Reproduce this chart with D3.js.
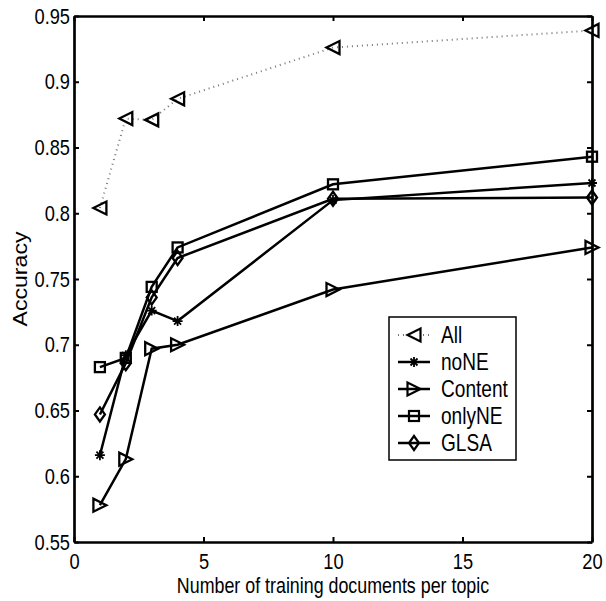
<!DOCTYPE html>
<html>
<head>
<meta charset="utf-8">
<script src="https://cdn.jsdelivr.net/npm/d3@7"></script>
<style>
  body { margin: 0; background: #fff; }
  text { font-family: "Liberation Sans", Arial, sans-serif; fill: #000; }
</style>
</head>
<body>
<div id="chart"></div>
<script>
// données
const docs = [1, 2, 3, 4, 10, 20];
const seriesNames = ["All", "noNE", "Content", "onlyNE", "GLSA"];
const accAll = [0.804, 0.872, 0.871, 0.887, 0.926, 0.939];
const accNoNE = [0.616, 0.692, 0.726, 0.718, 0.810, 0.823];
const accContent = [0.578, 0.613, 0.697, 0.700, 0.742, 0.774];
const accOnlyNE = [0.683, 0.690, 0.744, 0.774, 0.822, 0.843];
const accGLSA = [0.647, 0.686, 0.736, 0.766, 0.811, 0.812];
const xTicks = [0, 5, 10, 15, 20];
const yTicks = [0.55, 0.6, 0.65, 0.7, 0.75, 0.8, 0.85, 0.9, 0.95];

const markers = ["triLeft", "star", "triRight", "square", "diamond"];
const series = seriesNames.map((name, i) => ({
  name: name,
  values: [accAll, accNoNE, accContent, accOnlyNE, accGLSA][i],
  marker: markers[i],
  dotted: i === 0
}));

const width = 606, height = 601;
const margin = {left: 74, right: 14, top: 16, bottom: 59};
const fontSize = "22px";
const narrow = 0.83; // police étroite type Helvetica Narrow

const svg = d3.select("#chart").append("svg")
  .attr("width", width).attr("height", height);

const x = d3.scaleLinear().domain([0, 20]).range([margin.left, width - margin.right]);
const y = d3.scaleLinear().domain([0.55, 0.95]).range([height - margin.bottom, margin.top]);

// axes (ticks vers l'intérieur, boîte fermée)
const fmt = d => String(+d.toFixed(2));
svg.append("g").attr("transform", `translate(0,${y(0.55)})`)
  .call(d3.axisBottom(x).tickValues(xTicks).tickSizeInner(-5).tickSizeOuter(0).tickPadding(11).tickFormat(fmt));
svg.append("g").attr("transform", `translate(0,${y(0.95)})`)
  .call(d3.axisTop(x).tickValues(xTicks).tickSizeInner(-5).tickSizeOuter(0).tickFormat(""));
svg.append("g").attr("transform", `translate(${x(0)},0)`)
  .call(d3.axisLeft(y).tickValues(yTicks).tickSizeInner(-5).tickSizeOuter(0).tickPadding(4 / narrow).tickFormat(fmt));
svg.append("g").attr("transform", `translate(${x(20)},0)`)
  .call(d3.axisRight(y).tickValues(yTicks).tickSizeInner(-5).tickSizeOuter(0).tickFormat(""));

svg.selectAll(".domain").attr("stroke", "#000").attr("stroke-width", 2.7);
svg.selectAll(".tick line").attr("stroke", "#000").attr("stroke-width", 2);
svg.selectAll(".tick text")
  .attr("font-family", "Liberation Sans, Arial, sans-serif")
  .style("font-size", fontSize)
  .attr("transform", `scale(${narrow},1)`);

// titres des axes
svg.append("text").attr("transform", `translate(${x(10)},593) scale(${narrow},1)`).attr("text-anchor", "middle")
  .style("font-size", "21.5px").text("Number of training documents per topic");
svg.append("text").attr("transform", `translate(27,${y(0.75)}) rotate(-90)`).attr("text-anchor", "middle")
  .style("font-size", "20px").attr("textLength", 95).attr("lengthAdjust", "spacingAndGlyphs")
  .text("Accuracy");

// marqueurs
function drawMarker(g, type, cx, cy) {
  const s = 6.5;
  if (type === "triLeft") {
    g.append("path").attr("d", `M${cx - s},${cy} L${cx + s},${cy - s} L${cx + s},${cy + s} Z`);
  } else if (type === "triRight") {
    g.append("path").attr("d", `M${cx + s},${cy} L${cx - s},${cy - s} L${cx - s},${cy + s} Z`);
  } else if (type === "square") {
    g.append("rect").attr("x", cx - 5).attr("y", cy - 5).attr("width", 10).attr("height", 10);
  } else if (type === "diamond") {
    g.append("path").attr("d", `M${cx},${cy - 7} L${cx + 5},${cy} L${cx},${cy + 7} L${cx - 5},${cy} Z`);
  } else if (type === "star") {
    const r = 5, k = r * 0.7;
    g.append("path").attr("d",
      `M${cx - r},${cy} L${cx + r},${cy} M${cx},${cy - r} L${cx},${cy + r} ` +
      `M${cx - k},${cy - k} L${cx + k},${cy + k} M${cx - k},${cy + k} L${cx + k},${cy - k}`)
      .attr("stroke-width", 1.8);
  }
}

const line = d3.line().x(d => x(d[0])).y(d => y(d[1]));

series.forEach(s => {
  const pts = docs.map((d, i) => [d, s.values[i]]);
  const g = svg.append("g");
  g.append("path").datum(pts).attr("d", line)
    .attr("fill", "none")
    .attr("stroke", s.dotted ? "#777" : "#000")
    .attr("stroke-width", s.dotted ? 2 : 2.5)
    .attr("stroke-dasharray", s.dotted ? "1,4" : null);
  const mg = g.append("g").attr("fill", "none").attr("stroke", "#000").attr("stroke-width", 2.3);
  pts.forEach(p => drawMarker(mg, s.marker, x(p[0]), y(p[1])));
});

// légende
const legend = svg.append("g");
legend.append("rect").attr("x", 389).attr("y", 317).attr("width", 127).attr("height", 143)
  .attr("fill", "#fff").attr("stroke", "#000").attr("stroke-width", 1.5);
series.forEach((s, i) => {
  const ly = 335 + i * 27;
  legend.append("line").attr("x1", 398).attr("x2", 430).attr("y1", ly).attr("y2", ly)
    .attr("stroke", s.dotted ? "#777" : "#000")
    .attr("stroke-width", s.dotted ? 2 : 2.5)
    .attr("stroke-dasharray", s.dotted ? "1,4" : null);
  const mg = legend.append("g").attr("fill", s.dotted ? "#fff" : "none").attr("stroke", "#000").attr("stroke-width", 2.2);
  drawMarker(mg, s.marker, 414, ly);
  legend.append("text").attr("transform", `translate(441,${ly + 8}) scale(${narrow},1)`)
    .style("font-size", "23px").text(s.name);
});
</script>
</body>
</html>
